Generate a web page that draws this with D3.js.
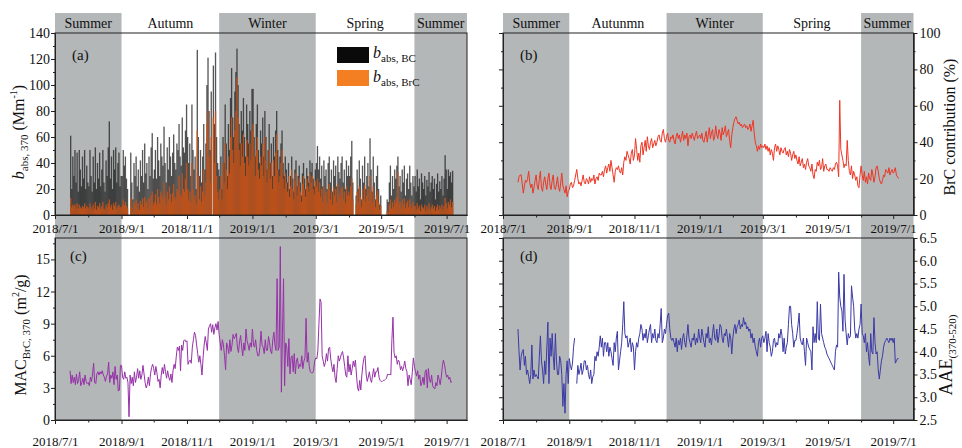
<!DOCTYPE html>
<html><head><meta charset="utf-8">
<script src="https://cdn.jsdelivr.net/npm/d3@7"></script>
<style>
body{margin:0;background:#fff}
svg{display:block;font-family:"Liberation Serif","Times New Roman",serif}
</style>
</head><body>
<svg id="chart" width="962" height="448"></svg>
<script>
// ---------- DATA ----------
const months = ["2018-07","2018-08","2018-09","2018-10","2018-11","2018-12","2019-01","2019-02","2019-03","2019-04","2019-05","2019-06","2019-07"];
const firstDay = [15,1,1,1,1,1,1,1,1,1,1,1,1];

const tickLabels = ["2018/7/1","2018/9/1","2018/11/1","2019/1/1","2019/3/1","2019/5/1","2019/7/1"];
const minorTickLabels = ["2018/8/1","2018/10/1","2018/12/1","2019/2/1","2019/4/1","2019/6/1"];

const seasonStarts = ["2018/7/1","2018/9/1","2018/12/1","2019/3/1","2019/6/1"];
const seasonShaded = [true,false,true,false,true];
const seasonNamesA = ["Summer","Autumn","Winter","Spring","Summer"];
const seasonNamesB = ["Summer","Autunmn","Winter","Spring","Summer"];

// b_abs,BC (Mm-1), daily, per month
const babsBC = [
 [61,20,45,30,50,25,48,18,50,35,22,45,28,50,20,38,25],
 [22,50,30,18,45,25,52,20,40,28,48,22,35,50,25,18,42,30,52,72,28,45,20,50,35,52,25,40,48,22,30],
 [30,50,38,45,28,20,null,null,48,25,12,40,30,45,22,35,18,42,30,50,25,55,32,40,20,45,30,52,63,28],
 [35,50,28,60,42,30,55,45,38,68,40,25,52,35,60,45,30,48,62,40,35,55,50,70,45,38,75,52,48,65,85],
 [60,40,55,30,85,50,35,45,20,127,60,30,50,25,45,70,35,55,100,121,80,50,95,0,115,70,125,60,40,35],
 [30,45,20,60,40,85,55,30,70,50,90,113,75,60,95,110,128,100,70,55,80,65,90,60,45,85,70,55,80,65,97],
 [97,60,45,70,85,50,40,65,55,75,45,80,60,35,50,70,40,55,30,60,45,65,80,50,35,45,55,65,40,30,45],
 [35,25,40,20,30,45,28,18,35,42,22,30,38,25,15,32,40,28,20,36,30,25,42,33,40,28,22,35],
 [40,53,35,45,28,38,22,42,30,35,20,40,45,25,35,18,42,30,38,22,45,33,28,40,45,25,35,20,42,30,38],
 [30,45,57,25,null,null,15,35,20,42,28,12,38,25,45,20,30,40,22,59,35,18,45,25,12,30,38,20,8,15],
 [null,null,null,null,null,12,10,25,38,15,30,20,35,28,38,45,22,30,18,35,25,38,15,28,32,20,38,25,15,30,22],
 [30,18,35,22,28,12,32,25,20,30,15,27,22,33,18,25,30,20,28,12,24,32,18,26,20,30,15,28,46,35],
 [20,35,30,33,25,34]
];
// b_abs,BrC (Mm-1)
const babsBrC = [
 [13,6,8,7,8,5,9,5,8,6,5,7,6,9,5,7,6],
 [5,9,6,4,8,5,10,4,7,6,9,5,7,10,5,4,8,6,9,12,6,8,4,9,7,10,5,7,8,6,6],
 [7,12,8,10,7,5,null,null,13,6,3,10,8,12,5,9,4,11,8,13,6,14,9,11,5,13,8,15,18,8],
 [10,16,8,20,14,9,18,15,12,25,14,8,18,12,22,16,10,17,24,14,12,20,18,30,16,14,32,20,18,28,40],
 [20,12,18,10,40,20,12,15,8,65,30,12,22,10,18,35,15,25,70,80,45,25,60,0,75,40,80,30,18,12],
 [20,30,12,40,25,55,35,20,45,32,60,75,50,40,65,80,106,75,50,38,55,45,62,40,30,58,45,38,55,42,65],
 [70,45,30,50,60,35,28,45,38,55,30,60,42,25,35,50,28,40,20,42,30,48,62,35,25,30,40,50,28,20,32],
 [25,18,30,14,22,35,20,12,26,32,15,22,28,18,10,24,30,20,14,28,22,18,32,25,30,20,16,26],
 [22,28,18,25,14,20,10,22,15,18,9,20,24,12,18,8,22,15,20,10,24,16,13,20,22,12,18,9,22,15,18],
 [15,22,28,12,null,null,8,18,10,22,14,6,20,12,23,10,15,20,11,30,18,9,22,12,6,15,19,10,4,7],
 [null,null,null,null,null,3,2,8,12,5,10,6,12,9,14,33,8,10,5,12,8,13,5,9,11,6,12,8,5,10,7],
 [7,4,9,5,7,3,8,6,5,8,3,7,5,9,4,6,8,5,7,3,6,8,4,7,5,8,4,7,13,9],
 [5,10,8,12,6,10]
];
// BrC contribution (%)
const brcContribution = [
 [18,21,22,22,17,12,16,19,18,20,24,18,15,17,12,15,19],
 [22,16,14,20,24,15,13,18,21,17,14,20,23,16,14,19,22,15,14,17,21,15,13,18,23,16,14,12,16,10,13],
 [14,17,18,15,16,19,22,25,20,17,18,16,19,22,18,17,20,19,17,21,18,20,19,22,17,20,21,19,23,22],
 [22,24,21,25,27,23,26,28,24,30,26,22,18,24,26,25,27,24,23,26,22,29,32,30,35,33,31,28,34,36,30],
 [33,42,36,30,34,29,38,40,33,37,41,35,43,38,36,40,42,37,39,41,38,40,43,44,41,40,45,47,42,40],
 [43,45,41,40,43,42,44,41,39,43,45,42,44,40,43,46,41,44,42,45,38,43,44,42,45,43,41,44,46,42,43],
 [44,42,45,41,40,43,46,40,44,48,42,45,47,41,43,49,44,42,47,45,41,48,44,46,49,43,45,47,41,37,44],
 [48,51,53,54,52,50,51,49,50,48,49,50,48,49,47,48,50,46,49,52,45,40,38,35,38,36,39,37],
 [38,37,39,36,38,35,37,33,36,34,30,37,39,35,38,36,33,37,35,34,36,37,33,35,32,36,34,30,33,35,31],
 [33,30,28,32,27,29,31,26,28,25,29,31,27,26,24,28,22,20,25,24,29,27,30,25,26,31,24,27,28,25],
 [25,24,26,25,24,26,25,28,29,27,21,63,36,33,30,26,28,27,41,30,24,22,27,20,24,22,19,21,16,15,22],
 [27,22,19,24,18,21,17,23,20,19,25,22,18,21,26,27,24,20,18,17,19,22,21,25,24,23,26,22,24,25],
 [23,24,26,22,21,20]
];
// MAC_BrC,370 (m2/g)
const macBrC = [
 [4.6,3.4,4.2,3.5,4.0,3.3,4.3,3.4,3.7,4.5,3.2,3.5,3.9,3.3,4.2,3.6,3.4],
 [3.5,3.2,4.0,3.6,4.3,5.3,3.5,3.4,4.3,4.5,4.2,4.5,4.3,4.6,4.2,4.0,3.6,4.1,4.3,5.4,3.5,4.2,3.9,4.5,3.3,5.0,3.8,4.2,2.7,2.8,5.1],
 [5.1,4.0,3.8,4.5,3.9,4.0,3.5,0.3,4.2,3.4,4.0,3.2,4.5,3.5,4.0,4.8,3.9,4.6,3.8,4.2,5.1,4.3,3.5,3.0,3.3,4.0,3.2,4.3,4.9,5.2],
 [4.8,4.2,5.0,4.4,3.6,3.8,3.0,4.2,4.9,4.3,5.2,4.5,3.9,4.6,4.0,3.7,4.3,3.5,4.6,5.2,4.8,5.9,6.8,6.5,6.9,4.6,7.0,6.5,7.4,7.5,7.3],
 [7.4,5.2,5.5,5.6,5.3,6.8,7.5,8.2,7.9,7.0,6.2,5.4,6.0,5.2,4.2,5.8,7.0,7.8,7.2,6.5,8.5,8.8,9.0,8.2,8.9,8.0,8.6,9.0,8.4,9.2],
 [8.0,7.2,6.5,7.5,7.0,6.0,4.7,7.2,6.8,6.2,7.5,6.4,7.0,8.0,7.6,7.8,8.1,6.8,6.3,7.3,7.9,6.8,6.0,7.2,6.5,8.5,7.4,7.0,6.5,7.2,6.8],
 [8.5,7.0,6.8,7.5,6.5,6.0,6.0,6.8,8.3,7.0,6.8,6.2,7.5,6.5,6.5,7.8,7.2,6.4,6.2,7.5,8.2,7.0,6.5,13.2,6.5,6.8,16.2,2.6,8.0,13.2,3.2],
 [7.2,6.8,5.0,7.6,4.3,5.8,6.0,4.5,6.2,4.3,5.5,5.8,4.8,5.2,5.0,6.0,4.8,5.5,5.8,9.5,5.4,6.3,5.0,4.5,4.4,4.4,4.6,5.5],
 [5.8,5.7,6.5,9.0,11.3,11.0,6.0,5.5,5.0,5.4,6.2,5.5,6.7,6.8,5.7,5.0,4.5,5.2,4.0,3.5,4.8,6.0,5.5,5.8,6.2,6.4,5.8,5.0,4.2,4.0,6.0],
 [4.5,5.2,4.2,4.8,5.5,5.0,5.6,4.2,3.0,2.7,3.7,2.8,4.2,5.2,5.8,6.0,4.3,3.6,4.0,4.5,3.8,3.5,4.2,4.8,4.0,4.5,4.5,4.9,4.0,3.7],
 [3.6,3.6,3.7,3.7,3.8,3.9,4.3,4.2,4.3,4.2,7.5,9.6,6.3,5.8,6.0,5.2,5.6,5.4,4.7,5.0,4.6,5.0,5.5,4.8,4.5,3.2,4.2,3.8,3.3,4.4,5.8],
 [5.0,4.5,4.1,4.6,3.8,4.2,3.2,3.5,4.0,3.3,4.5,4.7,3.0,4.8,3.8,3.5,4.2,3.2,3.0,2.9,3.5,3.2,4.2,3.8,3.3,4.0,5.0,5.6,5.2,4.5],
 [4.0,4.2,3.8,4.0,3.5,3.6]
];
// AAE(370-520)
const aae = [
 [4.5,4.0,3.6,3.9,4.0,4.05,3.7,3.9,3.5,3.6,3.45,3.3,3.5,4.15,3.4,3.6,3.45],
 [3.5,3.45,3.4,3.9,4.35,3.8,3.6,3.3,3.8,3.5,4.1,4.65,3.3,4.3,3.9,4.4,3.9,3.6,4.4,3.8,3.5,3.5,3.9,3.8,3.5,2.8,3.3,2.65,3.5,3.8,3.3],
 [3.85,3.7,3.6,3.75,4.1,4.3,null,3.3,3.7,3.5,3.6,3.75,3.5,3.6,3.8,3.8,3.6,3.7,3.5,3.4,3.6,3.3,3.45,3.5,3.9,3.8,4.0,3.9,4.1,4.35],
 [4.1,4.3,3.9,4.2,4.2,4.0,4.2,3.9,4.1,4.0,3.85,3.7,4.2,4.0,4.3,4.45,3.6,3.8,4.0,4.2,4.6,5.1,4.4,4.3,4.35,4.1,4.2,4.3,4.0,4.2,4.1],
 [3.6,4.0,4.2,4.1,4.3,4.4,4.6,4.5,4.25,4.4,4.3,4.5,4.2,4.35,4.5,4.6,4.2,4.4,4.3,4.5,4.25,4.2,4.4,4.3,4.6,4.95,4.2,4.3,4.5,4.4],
 [4.6,4.8,4.85,4.5,4.3,4.25,4.3,4.2,4.1,4.3,4.0,4.25,4.15,4.3,4.05,4.3,4.4,4.2,4.1,4.35,4.6,4.3,4.2,4.1,4.3,4.25,4.4,4.15,4.3,4.2,4.5],
 [4.3,4.2,4.5,4.35,4.2,4.1,4.4,4.3,4.55,4.2,4.3,4.15,4.4,4.6,4.3,4.25,4.5,4.2,4.35,4.6,4.55,4.3,4.2,4.4,4.35,4.5,4.3,4.1,4.4,4.3,3.95],
 [4.3,4.5,4.6,4.4,4.55,4.6,4.7,4.5,4.6,4.55,4.75,4.6,4.65,4.5,4.55,4.45,4.5,4.3,4.4,4.2,4.3,4.1,4.0,3.9,4.2,4.3,4.1,4.3],
 [4.35,4.2,4.3,4.45,4.0,4.4,4.2,4.1,3.9,4.0,4.25,4.3,4.1,4.2,4.15,4.4,4.3,4.5,4.35,4.0,4.3,3.95,4.1,4.2,4.6,5.0,5.0,4.6,4.4,4.1,4.25],
 [4.25,4.4,4.6,4.85,4.3,4.2,4.15,4.3,4.0,3.7,4.3,4.2,4.1,4.05,4.0,3.6,4.55,4.2,4.4,4.2,5.1,4.3,4.25,5.05,4.4,4.3,4.2,4.1,4.05,3.95],
 [3.9,3.85,3.8,3.75,3.7,3.65,3.6,4.0,4.15,4.1,5.75,5.2,5.0,4.9,4.45,5.7,4.7,4.4,4.15,4.4,4.3,4.35,5.45,5.2,5.0,4.5,4.3,4.4,4.3,4.5,4.6],
 [5.05,4.4,4.35,4.2,4.4,4.0,4.2,3.9,3.7,4.4,4.0,3.95,4.75,4.2,3.95,4.0,3.6,3.4,3.6,3.8,3.9,4.1,4.2,4.25,4.3,4.25,4.2,4.3,4.25,4.3],
 [4.2,4.3,3.75,3.8,3.85,3.85]
];

// ---------- HELPERS ----------
const pDate = d3.timeParse("%Y/%m/%d");
function daily(monthArrays){
  const out=[];
  monthArrays.forEach((arr,mi)=>{
    const [y,m]=months[mi].split("-").map(Number);
    arr.forEach((v,k)=>out.push({date:new Date(y,m-1,firstDay[mi]+k), v}));
  });
  return out;
}
const bcData = daily(babsBC), brcData = daily(babsBrC);
const contribData = daily(brcContribution), macData = daily(macBrC), aaeData = daily(aae);

const svg = d3.select("#chart");
const domainX = [pDate("2018/7/1"), pDate("2019/7/20")];
const majorDates = tickLabels.map(pDate), minorDates = minorTickLabels.map(pDate);
const seasonEdges = seasonStarts.map(pDate).concat([domainX[1]]);

const P = {
  a:{l:55,r:467,t:33,b:215},
  b:{l:503,r:913.5,t:33,b:215},
  c:{l:55,r:467,t:238,b:420},
  d:{l:503,r:913.5,t:238,b:420}
};
const shadeCol = "#b4b7b8";

function xs(p){ return d3.scaleTime().domain(domainX).range([p.l,p.r]); }

// shading
[["a",13],["b",13],["c",215],["d",215]].forEach(([k,topY])=>{
  const p=P[k], x=xs(p);
  seasonStarts.forEach((s,i)=>{
    if(!seasonShaded[i]) return;
    svg.append("rect").attr("x",x(seasonEdges[i])).attr("y",topY)
      .attr("width",x(seasonEdges[i+1])-x(seasonEdges[i])).attr("height",p.b-topY)
      .attr("fill",shadeCol);
  });
});
// season labels
[["a",seasonNamesA],["b",seasonNamesB]].forEach(([k,names])=>{
  const x=xs(P[k]);
  names.forEach((n,i)=>{
    svg.append("text").attr("x",(x(seasonEdges[i])+x(seasonEdges[i+1]))/2).attr("y",28)
      .attr("text-anchor","middle").attr("font-size",14).attr("fill","#111").text(n);
  });
});

function frame(p){
  svg.append("rect").attr("x",p.l).attr("y",p.t).attr("width",p.r-p.l).attr("height",p.b-p.t)
    .attr("fill","none").attr("stroke","#222").attr("stroke-width",1);
}
function styleAxis(g,fs){
  g.selectAll("path.domain").attr("stroke","#222");
  g.selectAll("line").attr("stroke","#222");
  g.selectAll("text").attr("font-size",fs).attr("fill","#111").attr("font-family","Liberation Serif, Times New Roman, serif");
}
function xAxis(p,pad){
  const x=xs(p);
  const g=svg.append("g").attr("transform",`translate(0,${p.b})`)
    .call(d3.axisBottom(x).tickValues(majorDates).tickFormat((d,i)=>tickLabels[i]).tickSize(4).tickPadding(pad).tickSizeOuter(0));
  styleAxis(g,13);
  const g2=svg.append("g").attr("transform",`translate(0,${p.b})`)
    .call(d3.axisBottom(x).tickValues(minorDates).tickFormat("").tickSize(2.5).tickSizeOuter(0));
  styleAxis(g2,13);
  return x;
}
function yAxis(p,y,side,major,minor,fmt,showLabels){
  const ax = side==="left"?d3.axisLeft:d3.axisRight;
  const tx = side==="left"?p.l:p.r;
  const g=svg.append("g").attr("transform",`translate(${tx},0)`)
    .call(ax(y).tickValues(major).tickFormat(showLabels?fmt:"").tickSize(4).tickPadding(side==="left"?1:2).tickSizeOuter(0));
  styleAxis(g,14);
  const g2=svg.append("g").attr("transform",`translate(${tx},0)`)
    .call(ax(y).tickValues(minor).tickFormat("").tickSize(2).tickSizeOuter(0));
  styleAxis(g2,14);
}
function label(p,txt,dx,yb){
  svg.append("text").attr("x",p.l+dx).attr("y",yb).attr("font-size",15).attr("fill","#111").text(txt);
}

// ---------- PANEL A ----------
{
  const p=P.a, x=xs(p);
  const y=d3.scaleLinear().domain([0,140]).range([p.b,p.t]);
  const step=d3.timeDay.offset;
  const bw=d=>x(step(d.date,1))-x(d.date)+0.25;
  svg.append("g").selectAll("rect").data(bcData.filter(d=>d.v!=null)).join("rect")
    .attr("x",d=>x(d.date)).attr("y",d=>y(d.v)).attr("width",bw).attr("height",d=>p.b-y(d.v))
    .attr("fill","#1e1e1e").attr("fill-opacity",0.75);
  svg.append("g").selectAll("rect").data(brcData.filter(d=>d.v!=null)).join("rect")
    .attr("x",d=>x(d.date)).attr("y",d=>y(d.v)).attr("width",bw).attr("height",d=>p.b-y(d.v))
    .attr("fill","#c0521a").attr("fill-opacity",0.95);
  frame(p);
  xAxis(p,5);
  yAxis(p,y,"left",d3.range(0,141,20),d3.range(10,140,20),d3.format("d"),true);
  label(p,"(a)",17,60);
  // legend
  svg.append("rect").attr("x",337).attr("y",47).attr("width",32).attr("height",16).attr("fill","#0a0a0a");
  svg.append("rect").attr("x",337).attr("y",70).attr("width",32).attr("height",16).attr("fill","#f47f22");
  [["BC",58],["BrC",82]].forEach(([s,yb])=>{
    const t=svg.append("text").attr("x",373).attr("y",yb).attr("font-size",16).attr("fill","#111");
    t.append("tspan").attr("font-style","italic").text("b");
    t.append("tspan").attr("font-size",11).attr("dy",4).text("abs, "+s);
  });
  // y title
  const t=svg.append("text").attr("transform","translate(24,132) rotate(-90)")
    .attr("text-anchor","middle").attr("font-size",16).attr("fill","#111");
  t.append("tspan").attr("font-style","italic").text("b");
  t.append("tspan").attr("font-size",11).attr("dy",4).text("abs, 370");
  t.append("tspan").attr("dy",-4).text(" (Mm");
  t.append("tspan").attr("font-size",10).attr("dy",-7).text("-1");
  t.append("tspan").attr("dy",7).text(")");
}

// ---------- PANEL B ----------
{
  const p=P.b, x=xs(p);
  const y=d3.scaleLinear().domain([0,100]).range([p.b,p.t]);
  svg.append("path").datum(contribData).attr("fill","none").attr("stroke","#ee3524").attr("stroke-width",1)
    .attr("d",d3.line().x(d=>x(d.date)).y(d=>y(d.v)));
  frame(p);
  xAxis(p,5);
  yAxis(p,y,"right",d3.range(0,101,20),d3.range(10,100,20),d3.format("d"),true);
  yAxis(p,y,"left",d3.range(0,101,20),d3.range(10,100,20),d3.format("d"),false);
  label(p,"(b)",17,60);
  svg.append("text").attr("transform","translate(955,127) rotate(-90)").attr("text-anchor","middle")
    .attr("font-size",16).attr("fill","#111").text("BrC contribution (%)");
}

// ---------- PANEL C ----------
{
  const p=P.c, x=xs(p);
  const y=d3.scaleLinear().domain([0,17]).range([p.b,p.t]);
  svg.append("path").datum(macData).attr("fill","none").attr("stroke","#9632a8").attr("stroke-width",1)
    .attr("d",d3.line().x(d=>x(d.date)).y(d=>y(d.v)));
  frame(p);
  xAxis(p,13);
  yAxis(p,y,"left",d3.range(0,16,3),d3.range(1.5,17,3),d3.format("d"),true);
  label(p,"(c)",15,261);
  const t=svg.append("text").attr("transform","translate(26,335) rotate(-90)")
    .attr("text-anchor","middle").attr("font-size",16).attr("fill","#111");
  t.append("tspan").text("MAC");
  t.append("tspan").attr("font-size",11).attr("dy",4).text("BrC, 370");
  t.append("tspan").attr("dy",-4).text(" (m");
  t.append("tspan").attr("font-size",10).attr("dy",-7).text("2");
  t.append("tspan").attr("dy",7).text("/g)");
}

// ---------- PANEL D ----------
{
  const p=P.d, x=xs(p);
  const y=d3.scaleLinear().domain([2.5,6.5]).range([p.b,p.t]);
  svg.append("path").datum(aaeData).attr("fill","none").attr("stroke","#3b3aa6").attr("stroke-width",1)
    .attr("d",d3.line().defined(d=>d.v!=null).x(d=>x(d.date)).y(d=>y(d.v)));
  frame(p);
  xAxis(p,13);
  yAxis(p,y,"right",d3.range(2.5,6.51,0.5),d3.range(2.75,6.5,0.5),d3.format(".1f"),true);
  yAxis(p,y,"left",d3.range(2.5,6.51,0.5),d3.range(2.75,6.5,0.5),d3.format(".1f"),false);
  label(p,"(d)",17,261);
  const t=svg.append("text").attr("transform","translate(952,355) rotate(-90)")
    .attr("text-anchor","middle").attr("font-size",18).attr("fill","#111");
  t.append("tspan").text("AAE");
  t.append("tspan").attr("font-size",11).attr("dy",4).text("(370-520)");
}
</script>
</body></html>
